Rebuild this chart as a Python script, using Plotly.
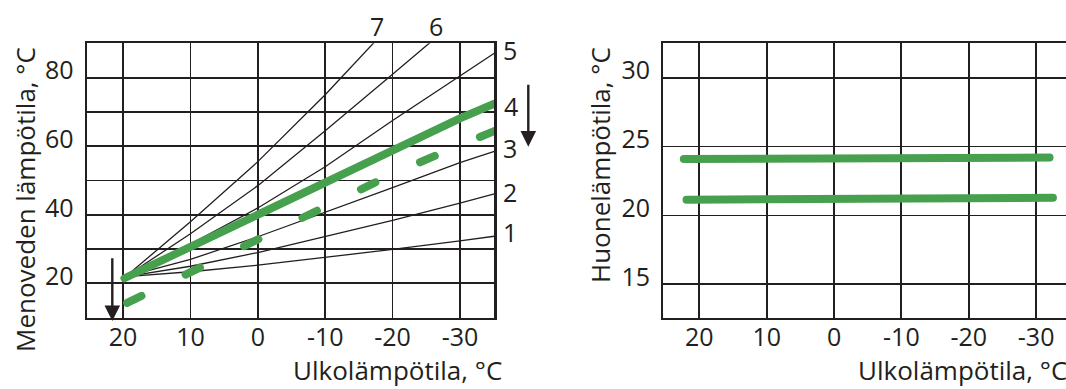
import plotly.graph_objects as go

# ---------------- data ----------------
outdoor = [19.6, 10, 0, -10, -20, -30, -35.1]          # outdoor temperature, °C
curve_1 = [22, 23.4, 25.3, 27.5, 29.9, 32.4, 33.75]
curve_2 = [22, 25.0, 29.0, 33.6, 38.4, 43.4, 46.1]
curve_3 = [22, 27.0, 33.6, 40.7, 47.9, 55.2, 58.5]
curve_4 = [22, 30.7, 40.2, 49.6, 59.1, 68.1, 72.4]
curve_5 = [22, 31.5, 42.0, 54.0, 67.5, 80.5, 87.1]
curve_6 = [22, 34.5, 48.5, 64.5, 81.0, 98.0, 106.0]
curve_7 = [22, 38.0, 55.5, 75.0, 96.0, 117.0, 128.0]
curve_names = ["1", "2", "3", "4", "5", "6", "7"]

selected_x = [19.8, 10, 0, -10, -20, -30, -35.1]
selected_supply = [21.5, 30.7, 40.2, 49.6, 59.1, 68.1, 72.4]
lowered_x = [19.4, 10, 0, -10, -20, -30, -35.2]
lowered_supply = [14.3, 23.3, 32.9, 42.6, 51.9, 60.3, 64.5]

room_upper_x = [22.3, -32.0]
room_upper = [24.09, 24.2]
room_lower_x = [21.9, -32.5]
room_lower = [21.14, 21.28]

x_ticks = [20, 10, 0, -10, -20, -30]
x_ticktext = ["20", "10", "0", "-10", "-20", "-30"]
supply_ticks = [20, 40, 60, 80]
room_ticks = [15, 20, 25, 30]

x_title = "Ulkolämpötila, °C"
supply_title = "Menoveden lämpötila, °C"
room_title = "Huonelämpötila, °C"

# ---------------- style ----------------
W, H = 1066, 389
INK = "#231f20"
GREEN = "#47a04d"
FONT = "Open Sans"
TICK_SIZE = 25
TITLE_SIZE = 26


def px(x):
    return x / W


def py(y):
    return 1 - y / H


fig = go.Figure()

curves = [curve_1, curve_2, curve_3, curve_4, curve_5, curve_6, curve_7]
for name, ys in zip(curve_names, curves):
    fig.add_trace(go.Scatter(x=outdoor, y=ys, mode="lines", name=name,
                             line=dict(color=INK, width=1.3),
                             xaxis="x", yaxis="y", showlegend=False, hoverinfo="skip"))

fig.add_trace(go.Scatter(x=selected_x, y=selected_supply, mode="lines",
                         line=dict(color=GREEN, width=8),
                         xaxis="x", yaxis="y", showlegend=False, hoverinfo="skip"))
fig.add_trace(go.Scatter(x=lowered_x, y=lowered_supply, mode="lines",
                         line=dict(color=GREEN, width=8, dash="16px,49px"),
                         xaxis="x", yaxis="y", showlegend=False, hoverinfo="skip"))

fig.add_trace(go.Scatter(x=room_upper_x, y=room_upper, mode="lines",
                         line=dict(color=GREEN, width=8),
                         xaxis="x2", yaxis="y2", showlegend=False, hoverinfo="skip"))
fig.add_trace(go.Scatter(x=room_lower_x, y=room_lower, mode="lines",
                         line=dict(color=GREEN, width=8),
                         xaxis="x2", yaxis="y2", showlegend=False, hoverinfo="skip"))

tickfont = dict(family=FONT, size=TICK_SIZE, color=INK)
common_x = dict(tickmode="array", tickvals=x_ticks, ticktext=x_ticktext,
                showgrid=True, gridcolor=INK, gridwidth=1.8, zeroline=False,
                showline=True, linecolor=INK, linewidth=2.2, mirror=True,
                ticks="", tickfont=tickfont, ticklabelstandoff=-4, fixedrange=True)

fig.update_layout(
    width=W, height=H, autosize=False,
    margin=dict(l=0, r=0, t=0, b=0),
    paper_bgcolor="white", plot_bgcolor="white",
    font=dict(family=FONT, color=INK),
    xaxis=dict(common_x, domain=[px(86.7), px(494.3)], range=[25.4, -35.1], anchor="y"),
    yaxis=dict(domain=[py(317.7), py(43.3)], range=[10, 90], anchor="x",
               tickmode="array", tickvals=supply_ticks,
               showgrid=True, gridcolor=INK, gridwidth=1.8, zeroline=False,
               minor=dict(dtick=10, tick0=0, showgrid=True, gridcolor=INK, gridwidth=1.8, ticks=""),
               showline=True, linecolor=INK, linewidth=2.2, mirror=True,
               ticks="", tickfont=tickfont, ticklabelstandoff=6, ticklabelshift=-7,
               fixedrange=True),
    xaxis2=dict(common_x, domain=[px(663.3), 1.0], range=[25.35, -34.44], anchor="y2"),
    yaxis2=dict(domain=[py(317.7), py(43.3)], range=[12.57, 32.5], anchor="x2",
                tickmode="array", tickvals=room_ticks,
                showgrid=True, gridcolor=INK, gridwidth=1.8, zeroline=False,
                showline=True, linecolor=INK, linewidth=2.2, mirror=False,
                ticks="", tickfont=tickfont, ticklabelstandoff=6, ticklabelshift=-7,
                fixedrange=True),
)

annotations = []
# axis titles
annotations.append(dict(text=x_title, xref="paper", yref="paper", x=px(504), y=py(370),
                        xanchor="right", yanchor="middle", showarrow=False,
                        font=dict(family=FONT, size=TITLE_SIZE, color=INK)))
annotations.append(dict(text=x_title, xref="paper", yref="paper", x=px(856), y=py(370),
                        xanchor="left", yanchor="middle", showarrow=False,
                        font=dict(family=FONT, size=TITLE_SIZE, color=INK)))
annotations.append(dict(text=supply_title, xref="paper", yref="paper", x=px(25), y=py(200),
                        xanchor="center", yanchor="middle", textangle=-90, showarrow=False,
                        font=dict(family=FONT, size=TITLE_SIZE, color=INK)))
annotations.append(dict(text=room_title, xref="paper", yref="paper", x=px(600), y=py(165),
                        xanchor="center", yanchor="middle", textangle=-90, showarrow=False,
                        font=dict(family=FONT, size=TITLE_SIZE, color=INK)))

# curve number labels (pixel positions on the page)
label_pos = {"7": (376.7, 26), "6": (435.7, 26), "5": (510, 50), "4": (510.5, 106),
             "3": (510, 148.3), "2": (510, 191.7), "1": (510, 232)}
for name in curve_names:
    lx, ly = label_pos[name]
    annotations.append(dict(text=name, xref="paper", yref="paper", x=px(lx), y=py(ly),
                            xanchor="center", yanchor="middle", showarrow=False,
                            font=dict(family=FONT, size=TICK_SIZE, color=INK)))

# arrows
for (tx, ty, length) in [(528.3, 146.7, 63.4), (112.3, 321.0, 64.3)]:
    annotations.append(dict(text="", xref="paper", yref="paper", x=px(tx), y=py(ty),
                            ax=0, ay=-length, axref="pixel", ayref="pixel",
                            showarrow=True, arrowhead=2, arrowsize=1.3, arrowwidth=2.4,
                            arrowcolor=INK, standoff=0))

fig.update_layout(annotations=annotations)

post = """
document.body.style.margin = '0';
document.body.style.overflow = 'hidden';
var gd = document.getElementById('{plot_id}');
gd.querySelectorAll('.scatterlayer .js-line').forEach(function (p) {
  if (parseFloat(p.style.strokeWidth) >= 5) { p.style.strokeLinecap = 'round'; }
});
"""

fig.write_html("out.html", config={"displayModeBar": False, "staticPlot": True},
               post_script=post)
